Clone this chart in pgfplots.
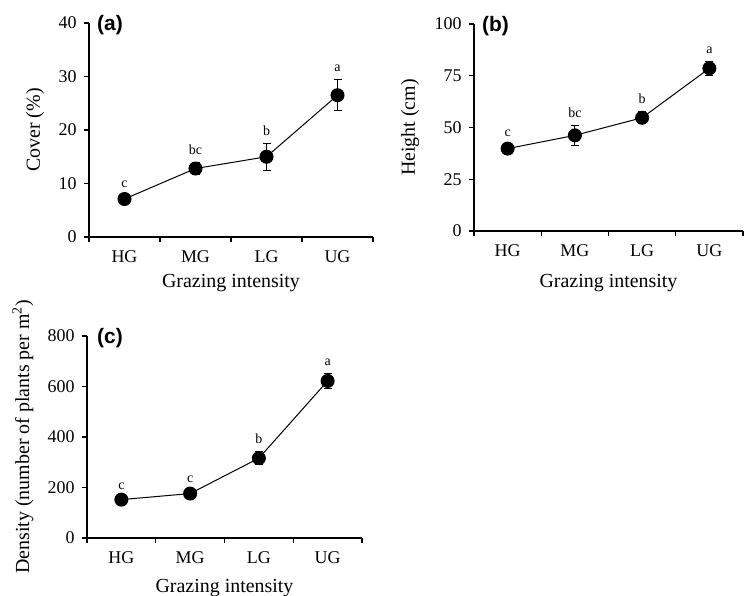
\documentclass[border=0pt]{standalone}
\usepackage{fontspec}
\setmainfont{Liberation Serif}
\newfontfamily\panelfont{Liberation Sans}
\usepackage{pgfplots}
\usepackage{pgfplotstable}
\pgfplotsset{compat=1.18}

\pgfplotstableread{
x y e lab
1 7.1 0.7 c
2 12.8 1.2 bc
3 15.0 2.5 b
4 26.5 2.9 a
}\taba
\pgfplotstableread{
x y e lab
1 39.8 1.8 c
2 46.2 4.9 bc
3 54.7 2.9 b
4 78.6 3.4 a
}\tabb
\pgfplotstableread{
x y e lab
1 152 10 c
2 176 12 c
3 316 26 b
4 622 30 a
}\tabc

\tikzset{plab/.style={anchor=west, inner sep=0pt, font=\panelfont\bfseries\fontsize{21}{24}\selectfont}}

\pgfplotsset{
  myax/.style={
    scale only axis, anchor=south west,
    axis x line=bottom, axis y line=left,
    axis line style={-, line width=1.1bp, black},
    xmin=0.5, xmax=4.5,
    xtick={1,2,3,4}, xticklabels={HG,MG,LG,UG},
    minor xtick={0.5,1.5,2.5,3.5,4.5},
    major x tick style={draw=none},
    tick align=outside,
    major tick length=5bp, minor tick length=5bp,
    every tick/.style={line width=1.1bp, black},
    ticklabel style={font=\fontsize{18}{20}\selectfont},
    yticklabel style={xshift=-4bp},
    xticklabel style={yshift=-5bp},
    /pgf/number format/assume math mode=true,
    label style={font=\fontsize{20}{22}\selectfont},
    xlabel={Grazing intensity},
    clip=false,
  },
  xlaby/.style={xlabel style={at={(axis description cs:0.5,0)}, anchor=center, yshift=-#1}},
  ylabx/.style={ylabel style={at={(axis description cs:0,0.5)}, anchor=center, rotate=0, xshift=0pt, yshift=#1}},
  dataplot/.style={black, mark=*, mark size=6.5bp, line width=1bp,
    mark options={solid, fill=black},
    error bars/.cd, y dir=both, y explicit,
    error bar style={line width=1bp, black},
    error mark options={rotate=90, mark size=4bp, line width=1bp, black}},
  letters/.style={draw=none, mark=none, nodes near coords, point meta=explicit symbolic,
    every node near coord/.append style={anchor=base, yshift=8bp, inner sep=0pt,
      font=\fontsize{14}{16}\selectfont, black}},
}

\begin{document}
\begin{tikzpicture}
\useasboundingbox (0bp,0bp) rectangle (744bp,596bp);

% (a)
\begin{axis}[myax, at={(89bp,359bp)}, width=284bp, height=214bp,
  ymin=0, ymax=40, ytick={0,10,20,30,40},
  ylabel={Cover (\%)}, ylabx=54bp, xlaby=46bp]
\addplot+[dataplot] table[x=x, y=y, y error=e] {\taba};
\addplot[letters] table[x=x, y expr=\thisrow{y}+\thisrow{e}, meta=lab] {\taba};
\node[plab] at (rel axis cs:0,1) [xshift=8bp, yshift=-2bp] {(a)};
\end{axis}

% (b)
\begin{axis}[myax, at={(474bp,365bp)}, width=269bp, height=207bp,
  ymin=0, ymax=100, ytick={0,25,50,75,100},
  ylabel={Height (cm)}, ylabx=64bp, xlaby=52bp]
\addplot+[dataplot] table[x=x, y=y, y error=e] {\tabb};
\addplot[letters] table[x=x, y expr=\thisrow{y}+\thisrow{e}, meta=lab] {\tabb};
\node[plab] at (rel axis cs:0,1) [xshift=8bp, yshift=-2bp] {(b)};
\end{axis}

% (c)
\begin{axis}[myax, at={(87bp,58bp)}, width=275bp, height=202bp,
  ymin=0, ymax=800, ytick={0,200,400,600,800},
  ylabel={Density (number of plants per m\textsuperscript{2})}, ylabx=64bp, xlaby=50bp]
\addplot+[dataplot] table[x=x, y=y, y error=e] {\tabc};
\addplot[letters] table[x=x, y expr=\thisrow{y}+\thisrow{e}, meta=lab] {\tabc};
\node[plab] at (rel axis cs:0,1) [xshift=10bp, yshift=-2bp] {(c)};
\end{axis}
\end{tikzpicture}
\end{document}
